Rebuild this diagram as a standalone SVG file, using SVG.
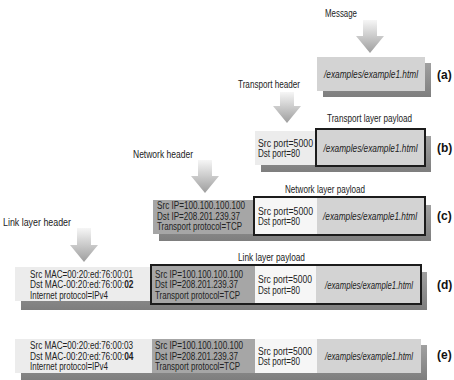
<svg xmlns="http://www.w3.org/2000/svg" width="454" height="380" viewBox="0 0 454 380">
<defs>
<linearGradient id="ag" x1="0" y1="0" x2="0" y2="1">
<stop offset="0" stop-color="#f6f6f6"/>
<stop offset="1" stop-color="#9e9e9e"/>
</linearGradient>
<linearGradient id="shg" x1="0" y1="0" x2="0" y2="1">
<stop offset="0" stop-color="#a0a0a0"/>
<stop offset="1" stop-color="#7e7e7e"/>
</linearGradient>
<style>
text{font-family:"Liberation Sans",Arial,sans-serif;font-size:10px;fill:#222}
.it{font-style:italic}
.b{font-weight:bold}
.lab{font-size:12px;font-weight:bold;fill:#111}
.sh{fill:url(#shg)}
.lt{fill:#ececec}
.wh{fill:#f6f6f6}
.pl{fill:#d3d3d3}
.dk{fill:#a6a6a6}
.bd{fill:none;stroke:#1c1c1c;stroke-width:2}
.arr{fill:url(#ag)}
</style>
</defs>
<rect width="454" height="380" fill="#ffffff"/>

<g id="connectors">
<path class="arr" d="M363,20 H377 V36 H384 L370,53 L356,36 H363 Z"/>
<path class="arr" d="M280,92 H294 V106 H301 L287,123 L273,106 H280 Z"/>
<path class="arr" d="M198,160 H212 V176 H219 L205,193 L191,176 H198 Z"/>
<path class="arr" d="M77,228 H91 V245 H98 L84,262 L70,245 H77 Z"/>
</g>

<g id="labels">
<text x="325" y="17" textLength="32" lengthAdjust="spacingAndGlyphs">Message</text>
<text x="238" y="88" textLength="62" lengthAdjust="spacingAndGlyphs">Transport header</text>
<text x="133" y="158" textLength="60" lengthAdjust="spacingAndGlyphs">Network header</text>
<text x="3" y="226" textLength="68" lengthAdjust="spacingAndGlyphs">Link layer header</text>
</g>

<g id="row-a">
<rect class="sh" x="323" y="63" width="108" height="34"/>
<rect class="pl" x="317" y="57" width="108" height="34"/>
<text class="it" x="371" y="78" text-anchor="middle" textLength="94" lengthAdjust="spacingAndGlyphs">/examples/example1.html</text>
<text class="lab" x="437" y="79">(a)</text>
</g>

<g id="row-b">
<rect class="sh" x="261" y="136" width="170" height="36"/>
<rect class="lt" x="255" y="131" width="62" height="34"/>
<rect class="pl" x="316" y="129" width="109" height="37"/>
<rect class="bd" x="316" y="129" width="109" height="37"/>
<text x="327" y="122" textLength="85" lengthAdjust="spacingAndGlyphs">Transport layer payload</text>
<text x="258" y="146.5" textLength="55" lengthAdjust="spacingAndGlyphs">Src port=5000</text>
<text x="258" y="157" textLength="42" lengthAdjust="spacingAndGlyphs">Dst port=80</text>
<text class="it" x="370.5" y="152" text-anchor="middle" textLength="94" lengthAdjust="spacingAndGlyphs">/examples/example1.html</text>
<text class="lab" x="437" y="152">(b)</text>
</g>

<g id="row-c">
<rect class="sh" x="159" y="205" width="272" height="36"/>
<rect class="dk" x="153" y="200" width="101" height="34"/>
<rect class="wh" x="254" y="197" width="63" height="38"/>
<rect class="pl" x="317" y="197" width="108" height="38"/>
<rect class="bd" x="254" y="197" width="171" height="38"/>
<text x="285" y="193" textLength="80" lengthAdjust="spacingAndGlyphs">Network layer payload</text>
<text x="157" y="209" textLength="88" lengthAdjust="spacingAndGlyphs">Src IP=100.100.100.100</text>
<text x="157" y="219.5" textLength="83" lengthAdjust="spacingAndGlyphs">Dst IP=208.201.239.37</text>
<text x="157" y="230" textLength="85" lengthAdjust="spacingAndGlyphs">Transport protocol=TCP</text>
<text x="258" y="214.5" textLength="55" lengthAdjust="spacingAndGlyphs">Src port=5000</text>
<text x="258" y="225" textLength="42" lengthAdjust="spacingAndGlyphs">Dst port=80</text>
<text class="it" x="370" y="220" text-anchor="middle" textLength="94" lengthAdjust="spacingAndGlyphs">/examples/example1.html</text>
<text class="lab" x="437" y="220">(c)</text>
</g>

<g id="row-d">
<rect class="sh" x="21" y="272" width="406" height="38"/>
<rect class="lt" x="15" y="267" width="136" height="34"/>
<rect class="dk" x="151" y="265" width="104" height="39"/>
<rect class="wh" x="255" y="265" width="61" height="39"/>
<rect class="pl" x="316" y="265" width="105" height="39"/>
<rect class="bd" x="151" y="265" width="270" height="39"/>
<text x="238" y="261" textLength="67" lengthAdjust="spacingAndGlyphs">Link layer payload</text>
<text x="30" y="277.5" textLength="103" lengthAdjust="spacingAndGlyphs">Src MAC=00:20:ed:76:00:01</text>
<text transform="translate(30,288) scale(0.835,1)">Dst MAC-00:20:ed:76:00:<tspan class="b">02</tspan></text>
<text x="30" y="298.5" textLength="78" lengthAdjust="spacingAndGlyphs">Internet protocol=IPv4</text>
<text x="155" y="277.5" textLength="88" lengthAdjust="spacingAndGlyphs">Src IP=100.100.100.100</text>
<text x="155" y="288" textLength="83" lengthAdjust="spacingAndGlyphs">Dst IP=208.201.239.37</text>
<text x="155" y="298.5" textLength="85" lengthAdjust="spacingAndGlyphs">Transport protocol=TCP</text>
<text x="258" y="283" textLength="54" lengthAdjust="spacingAndGlyphs">Src port=5000</text>
<text x="258" y="293.5" textLength="42" lengthAdjust="spacingAndGlyphs">Dst port=80</text>
<text class="it" x="369" y="288.5" text-anchor="middle" textLength="88" lengthAdjust="spacingAndGlyphs">/examples/example1.html</text>
<text class="lab" x="437" y="289">(d)</text>
</g>

<g id="row-e">
<rect class="sh" x="21" y="345" width="406" height="35"/>
<rect class="lt" x="15" y="339" width="137" height="34"/>
<rect class="dk" x="152" y="339" width="103" height="34"/>
<rect class="wh" x="255" y="339" width="62" height="34"/>
<rect class="pl" x="317" y="339" width="104" height="34"/>
<text x="30" y="349" textLength="103" lengthAdjust="spacingAndGlyphs">Src MAC=00:20:ed:76:00:03</text>
<text transform="translate(30,359.5) scale(0.835,1)">Dst MAC-00:20:ed:76:00:<tspan class="b">04</tspan></text>
<text x="30" y="370" textLength="78" lengthAdjust="spacingAndGlyphs">Internet protocol=IPv4</text>
<text x="155" y="349" textLength="88" lengthAdjust="spacingAndGlyphs">Src IP=100.100.100.100</text>
<text x="155" y="359.5" textLength="83" lengthAdjust="spacingAndGlyphs">Dst IP=208.201.239.37</text>
<text x="155" y="370" textLength="85" lengthAdjust="spacingAndGlyphs">Transport protocol=TCP</text>
<text x="258" y="354.5" textLength="54" lengthAdjust="spacingAndGlyphs">Src port=5000</text>
<text x="258" y="365" textLength="42" lengthAdjust="spacingAndGlyphs">Dst port=80</text>
<text class="it" x="369" y="360" text-anchor="middle" textLength="88" lengthAdjust="spacingAndGlyphs">/examples/example1.html</text>
<text class="lab" x="437" y="359">(e)</text>
</g>
</svg>
